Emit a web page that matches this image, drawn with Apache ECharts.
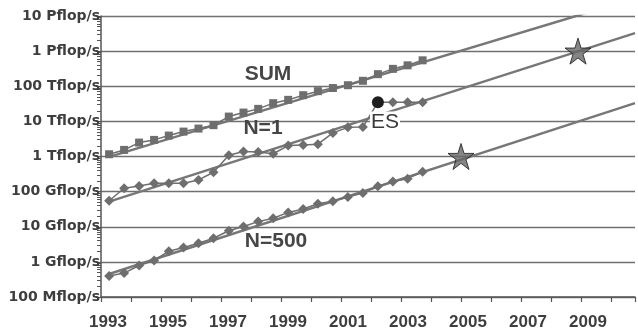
<!DOCTYPE html>
<html>
<head>
<meta charset="utf-8">
<script src="https://cdn.jsdelivr.net/npm/echarts@6/dist/echarts.min.js"></script>
<style>
html,body{margin:0;padding:0;background:#fff;}
#chart{width:638px;height:333px;}
</style>
</head>
<body>
<div id="chart"></div>
<script>
// TOP500 list dates (years)
var listYears = [1993.27, 1993.77, 1994.27, 1994.77, 1995.26, 1995.75, 1996.25, 1996.75, 1997.26, 1997.75, 1998.24, 1998.74, 1999.24, 1999.74, 2000.23, 2000.73, 2001.23, 2001.73, 2002.23, 2002.73, 2003.22, 2003.72];
// values in Gflop/s
var sumValues = [1160, 1540, 2490, 2970, 3940, 5120, 6240, 7800, 13700, 17800, 22700, 33000, 41000, 55700, 72500, 89000, 107000, 143000, 221000, 313000, 394000, 547000];
var n1Values = [55, 125, 145, 173, 173, 173, 215, 357, 1090, 1380, 1350, 1200, 2050, 2140, 2240, 4700, 6750, 6900, 35200, 35200, 35200, 35000];
var n500Values = [0.396, 0.48, 0.79, 1.1, 2.02, 2.57, 3.39, 4.7, 7.7, 10.2, 14, 17.5, 25.6, 32, 45, 53.6, 70.6, 91.8, 142.6, 193, 234, 371];
// Earth Simulator point (year, Gflop/s)
var esPoint = [2002.23, 35200];
// trend lines [year, Gflop/s]
var sumFit = [[1993.27, 975], [2010.8, 32000000]];
var n1Fit = [[1993.27, 52], [2010.8, 3260000]];
var n500Fit = [[1993.27, 0.45], [2010.8, 33000]];
// projected points (stars)
var starPoints = [[2005.0, 1000], [2008.9, 1000000]];
// axis labels
var yTickLabels = ['100 Mflop/s', '1 Gflop/s', '10 Gflop/s', '100 Gflop/s', '1 Tflop/s', '10 Tflop/s', '100 Tflop/s', '1 Pflop/s', '10 Pflop/s'];
var xLabelYears = [1993, 1995, 1997, 1999, 2001, 2003, 2005, 2007, 2009];

function pair(xs, ys) { return xs.map(function (x, i) { return [x, ys[i]]; }); }

var gray = '#6e6e6e';
var fitGray = '#777777';
var textCol = '#3e3e3e';
var starPath = 'path://M50,0 L61.2,34.5 L97.6,34.5 L68.2,55.9 L79.4,90.5 L50,69.1 L20.6,90.5 L31.8,55.9 L2.4,34.5 L38.8,34.5 Z';

var n1Data = pair(listYears, n1Values).map(function (p) {
  if (p[0] === esPoint[0]) {
    return { value: esPoint, symbol: 'circle', symbolSize: 12, itemStyle: { color: '#1e1e1e' } };
  }
  return p;
});

var chart = echarts.init(document.getElementById('chart'), null, { renderer: 'canvas' });
chart.setOption({
  animation: false,
  backgroundColor: '#ffffff',
  grid: { left: 101, right: 0, top: 16, bottom: 36, containLabel: false },
  xAxis: {
    type: 'value', min: 1993, max: 2010.8, interval: 1,
    axisLine: { show: true, lineStyle: { color: '#555', width: 1.5 } },
    axisTick: { show: true, length: 5, lineStyle: { color: '#555', width: 1.2 } },
    splitLine: { show: false },
    axisLabel: {
      margin: 17, color: textCol, fontFamily: '"Liberation Sans", Arial, sans-serif',
      fontWeight: 'bold', fontSize: 17, padding: [0, 0, 0, 14],
      formatter: function (v) { return xLabelYears.indexOf(v) >= 0 ? String(v) : ''; }
    }
  },
  yAxis: {
    type: 'log', logBase: 10, min: 0.1, max: 10000000, splitNumber: 8,
    axisLine: { show: true, lineStyle: { color: '#555', width: 1.5 } },
    axisTick: { show: true, length: 5, lineStyle: { color: '#555', width: 1 } },
    minorTick: { show: true, splitNumber: 9, length: 4, lineStyle: { color: '#555', width: 1 } },
    splitLine: { show: true, lineStyle: { color: '#707070', width: 1.3 } },
    minorSplitLine: { show: false },
    axisLabel: {
      margin: 1, color: textCol, fontFamily: '"DejaVu Sans", sans-serif',
      fontWeight: 'bold', fontSize: 14,
      formatter: function (v) { return yTickLabels[Math.round(Math.log10(v)) + 1]; }
    }
  },
  series: [
    { type: 'line', data: sumFit, symbol: 'none', clip: true, lineStyle: { color: fitGray, width: 2.5 }, z: 2 },
    { type: 'line', data: n1Fit, symbol: 'none', clip: true, lineStyle: { color: fitGray, width: 2.5 }, z: 2 },
    { type: 'line', data: n500Fit, symbol: 'none', clip: true, lineStyle: { color: fitGray, width: 2.5 }, z: 2 },
    { type: 'line', data: pair(listYears, sumValues), symbol: 'rect', symbolSize: 8,
      itemStyle: { color: gray }, lineStyle: { color: gray, width: 1.5 }, z: 3 },
    { type: 'line', data: n1Data, symbol: 'diamond', symbolSize: 10,
      itemStyle: { color: gray }, lineStyle: { color: gray, width: 1.5 }, z: 3 },
    { type: 'line', data: pair(listYears, n500Values), symbol: 'diamond', symbolSize: 10,
      itemStyle: { color: gray }, lineStyle: { color: gray, width: 1.5 }, z: 3 },
    { type: 'scatter', data: starPoints, symbol: starPath, symbolSize: 26,
      itemStyle: { color: '#666666', borderColor: '#1a1a1a', borderWidth: 1 }, z: 5 }
  ],
  graphic: [
    { type: 'text', x: 268, y: 74, z: 10, style: { text: 'SUM', font: 'bold 21px "Liberation Sans", Arial, sans-serif', fill: '#464646', align: 'center', verticalAlign: 'middle' } },
    { type: 'text', x: 263, y: 128, z: 10, style: { text: 'N=1', font: 'bold 21px "Liberation Sans", Arial, sans-serif', fill: '#464646', align: 'center', verticalAlign: 'middle' } },
    { type: 'text', x: 276, y: 241, z: 10, style: { text: 'N=500', font: 'bold 21px "Liberation Sans", Arial, sans-serif', fill: '#464646', align: 'center', verticalAlign: 'middle' } },
    { type: 'text', x: 385, y: 122, z: 10, style: { text: 'ES', font: '21px "Liberation Sans", Arial, sans-serif', fill: '#3a3a3a', align: 'center', verticalAlign: 'middle', backgroundColor: '#ffffff', padding: [0, 1, 0, 1] } }
  ]
});
</script>
</body>
</html>
